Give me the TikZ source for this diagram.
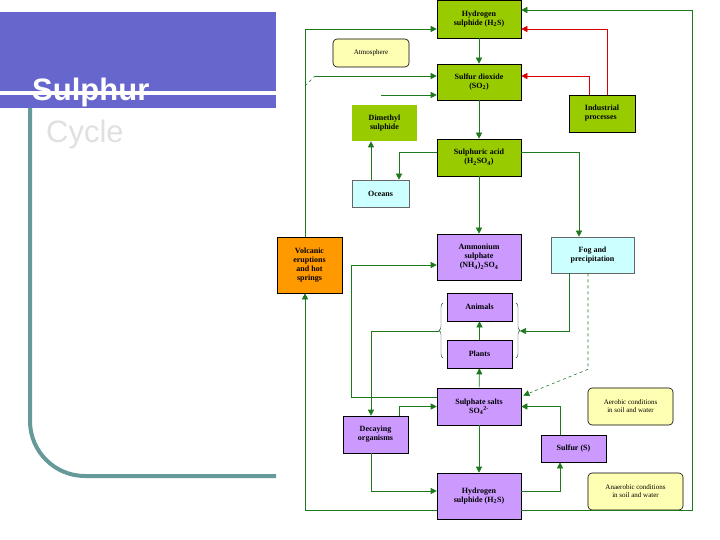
\documentclass[tikz,border=0pt]{standalone}
\usepackage{fontspec}
\setmainfont{Liberation Serif}
\setsansfont{Liberation Sans}
\usetikzlibrary{arrows.meta,decorations.pathreplacing}
\definecolor{leaf}{RGB}{153,204,0}
\definecolor{lilac}{RGB}{204,153,255}
\definecolor{ice}{RGB}{204,255,255}
\definecolor{cream}{RGB}{255,255,180}
\definecolor{amber}{RGB}{255,153,0}
\definecolor{slide}{RGB}{102,102,204}
\definecolor{rail}{RGB}{102,153,153}
\definecolor{flow}{RGB}{30,120,30}
\tikzset{
  box/.style={draw=black, line width=.6pt, inner sep=1pt, align=center,
              font=\fontsize{8}{9}\selectfont\bfseries},
  gbox/.style={box, fill=leaf},
  pbox/.style={box, fill=lilac},
  cbox/.style={box, fill=ice, draw=black!60},
  ybox/.style={box, fill=cream, rounded corners=4pt, font=\fontsize{7}{8}\selectfont},
  arr/.style={draw=flow, line width=.6pt, -{Triangle[length=6pt,width=6pt]}},
  redarr/.style={arr, draw=red!85!black},
}
\begin{document}
\begin{tikzpicture}[x=1pt,y=-1pt]
\useasboundingbox (0,0) rectangle (720,540);
% slide decoration
\fill[slide] (0,12) rectangle (276,108);
\fill[white] (0,91) rectangle (276,95);
\draw[rail, line width=4pt, rounded corners=55pt] (30,108) -- (30,476) -- (276,476);
\node[anchor=base west, white, font=\sffamily\bfseries\fontsize{31}{31}\selectfont, inner sep=0] (title) at (32,101) {Sulphur};
\node[anchor=base west, black!12, font=\sffamily\fontsize{31}{31}\selectfont, inner sep=0] (subtitle) at (46,143) {Cycle};

% boxes
\node[gbox, minimum width=84, minimum height=38] (h2stop) at (479,19) {Hydrogen\\sulphide (H\textsubscript{2}S)};
\node[ybox, minimum width=76, minimum height=28] (atm) at (371,53) {Atmosphere};
\node[gbox, minimum width=84, minimum height=36] (so2) at (479,82) {Sulfur dioxide\\(SO\textsubscript{2})};
\node[gbox, minimum width=66, minimum height=37, align=left] (ind) at (602,113.5) {Industrial\\processes};
\node[gbox, minimum width=65, minimum height=36, draw=none] (dms) at (384.5,123) {Dimethyl\\sulphide};
\node[gbox, minimum width=84, minimum height=37] (h2so4) at (479,157.5) {Sulphuric acid\\(H\textsubscript{2}SO\textsubscript{4})};
\node[cbox, minimum width=57, minimum height=27] (oceans) at (380.5,193.5) {Oceans};
\node[box, fill=amber, minimum width=65, minimum height=56] (volc) at (309.5,265) {Volcanic\\eruptions\\and hot\\springs};
\node[pbox, minimum width=84, minimum height=46] (amm) at (479,257) {Ammonium\\sulphate\\(NH\textsubscript{4})\textsubscript{2}SO\textsubscript{4}};
\node[cbox, minimum width=83, minimum height=36] (fog) at (592.5,255) {Fog and\\precipitation};
\node[pbox, minimum width=65, minimum height=28] (animals) at (479.5,307) {Animals};
\node[pbox, minimum width=65, minimum height=28] (plants) at (479.5,354) {Plants};
\node[pbox, minimum width=84, minimum height=37] (salts) at (479,406.5) {Sulphate salts\\SO\textsubscript{4}\textsuperscript{2-}};
\node[ybox, minimum width=85, minimum height=37] (aerob) at (630.5,406.5) {Aerobic conditions\\in soil and water};
\node[pbox, minimum width=65, minimum height=37] (decay) at (375.5,434.5) {Decaying\\organisms};
\node[pbox, minimum width=65, minimum height=27] (sulfur) at (573.5,448.5) {Sulfur (S)};
\node[pbox, minimum width=84, minimum height=46] (h2sbot) at (479,496) {Hydrogen\\sulphide (H\textsubscript{2}S)};
\node[ybox, minimum width=95, minimum height=37] (anaer) at (635.5,491.5) {Anaerobic conditions\\in soil and water};

% connectors
\draw[arr] (h2stop) -- (so2);
\draw[arr] (so2) -- (h2so4);
\draw[redarr] ([xshift=5]ind.north) |- ([yshift=-10]h2stop.east);
\draw[redarr] ([xshift=-13]ind.north) |- ([yshift=6]so2.east);
\draw[arr] ([yshift=-14]h2sbot.east) -- ++(171,0) |- ([yshift=9]h2stop.east);
\draw[arr] ([yshift=-14]h2sbot.west) -| ([xshift=-4.5]volc.south);
\draw[arr] ([xshift=-4.5]volc.north) |- ([yshift=-10]h2stop.west);
\coordinate (haze) at (305,86);
\draw[flow, thin, dashed] (haze) -- ++(10,-10) coordinate (haze2);
\draw[arr] (haze2) -- ([yshift=6]so2.west);
\coordinate (feed) at (381,95);
\draw[arr] (feed) -- ([yshift=-13]so2.west);
\draw[arr] ([yshift=5.5]h2so4.west) -| ([xshift=18.5]oceans.north);
\draw[arr] ([xshift=-9.5]oceans.north) -- ([xshift=-13.5]dms.south);
\draw[arr] (h2so4) -- (amm);
\draw[arr] ([yshift=5.5]h2so4.east) -| ([xshift=-13.5]fog.north);
\draw[arr] ([yshift=9.5]salts.west) -- ++(-85,0) |- ([yshift=-8]amm.west);
\draw[arr] ([xshift=23.5]decay.north) |- (salts.west);
\draw[arr] (salts) -- (plants);
\draw[arr] (plants) -- (animals);
% braces round animals and plants
\draw[flow!60!black, thin, decorate, decoration={brace, amplitude=4pt}] (443,358) -- (443,303);
\draw[flow!60!black, thin, decorate, decoration={brace, amplitude=4pt}] (516,303) -- (516,358);
\coordinate (bl) at (439,331);
\coordinate (br) at (520,331);
\draw[arr] (bl) -| ([xshift=-4.5]decay.north);
\draw[arr] ([xshift=-23.5]fog.south) |- (br);
\draw[arr, dashed] ([xshift=-4.5]fog.south) -- ++(0,96) -- ([xshift=2,yshift=11]salts.east);
\draw[arr] ([xshift=-13.5]sulfur.north) |- (salts.east);
\draw[arr] (salts) -- (h2sbot);
\draw[arr] ([xshift=-4.5]decay.south) |- ([yshift=5]h2sbot.west);
\draw[arr] ([yshift=5]h2sbot.east) -| ([xshift=-13.5]sulfur.south);
\end{tikzpicture}
\end{document}
